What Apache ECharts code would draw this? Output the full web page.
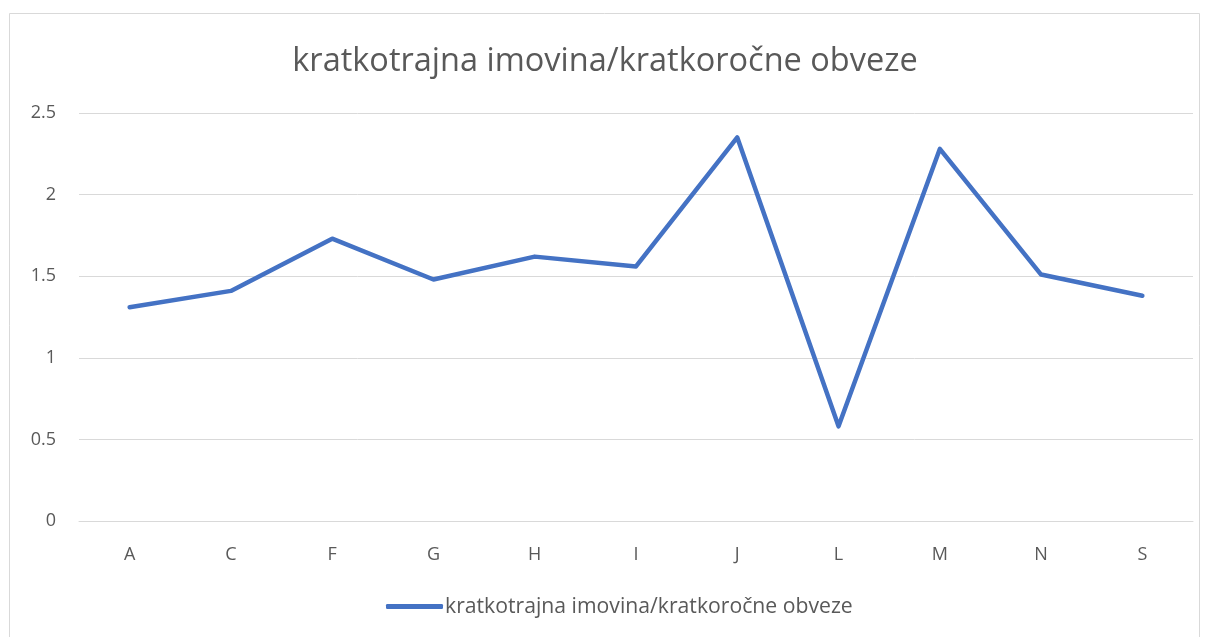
<!DOCTYPE html>
<html>
<head>
<meta charset="utf-8">
<script src="https://cdn.jsdelivr.net/npm/echarts@6/dist/echarts.min.js"></script>
<style>html,body{margin:0;padding:0;background:#fff;}#c{width:1210px;height:637px;}</style>
</head>
<body>
<div id="c"></div>
<script>
const categories = ['A','C','F','G','H','I','J','L','M','N','S'];
const values = [1.31, 1.41, 1.73, 1.48, 1.62, 1.56, 2.35, 0.58, 2.28, 1.51, 1.38];
const seriesName = 'kratkotrajna imovina/kratkoročne obveze';
const titleText = 'kratkotrajna imovina/kratkoročne obveze';
const yTicks = {min: 0, max: 2.5, interval: 0.5};

const FONT = 'Open Sans';
const chart = echarts.init(document.getElementById('c'));
chart.setOption({
  backgroundColor: '#fff',
  animation: false,
  textStyle: {fontFamily: FONT},
  graphic: [{
    type: 'rect', shape: {x: 9.5, y: 13.5, width: 1190, height: 640},
    style: {fill: 'none', stroke: '#d9d9d9', lineWidth: 1}, silent: true
  }],
  title: {
    text: titleText, left: 'center', top: 40,
    textStyle: {fontFamily: FONT, fontSize: 32.5, fontWeight: 'normal', color: '#595959'}
  },
  legend: {
    bottom: 15, left: 381,
    itemWidth: 57, itemHeight: 5, itemGap: 10,
    icon: 'roundRect',
    textStyle: {fontFamily: FONT, fontSize: 21.2, color: '#595959', padding: [0,0,0,-3]},
    data: [seriesName]
  },
  grid: {left: 79, right: 17, top: 113, bottom: 116},
  xAxis: {
    type: 'category', data: categories, boundaryGap: true,
    axisLine: {show: true, lineStyle: {color: '#d9d9d9', width: 1}},
    axisTick: {show: false},
    axisLabel: {color: '#595959', fontSize: 18, margin: 25, fontFamily: FONT}
  },
  yAxis: {
    type: 'value', min: yTicks.min, max: yTicks.max, interval: yTicks.interval,
    axisLine: {show: false}, axisTick: {show: false},
    splitLine: {lineStyle: {color: '#d9d9d9', width: 1}},
    axisLabel: {color: '#595959', fontSize: 18, margin: 23, fontFamily: FONT}
  },
  series: [{
    name: seriesName, type: 'line', data: values,
    showSymbol: false, symbol: 'none',
    lineStyle: {color: '#4472C4', width: 4.5, cap: 'round', join: 'round'},
    itemStyle: {color: '#4472C4'}
  }]
});
</script>
</body>
</html>
